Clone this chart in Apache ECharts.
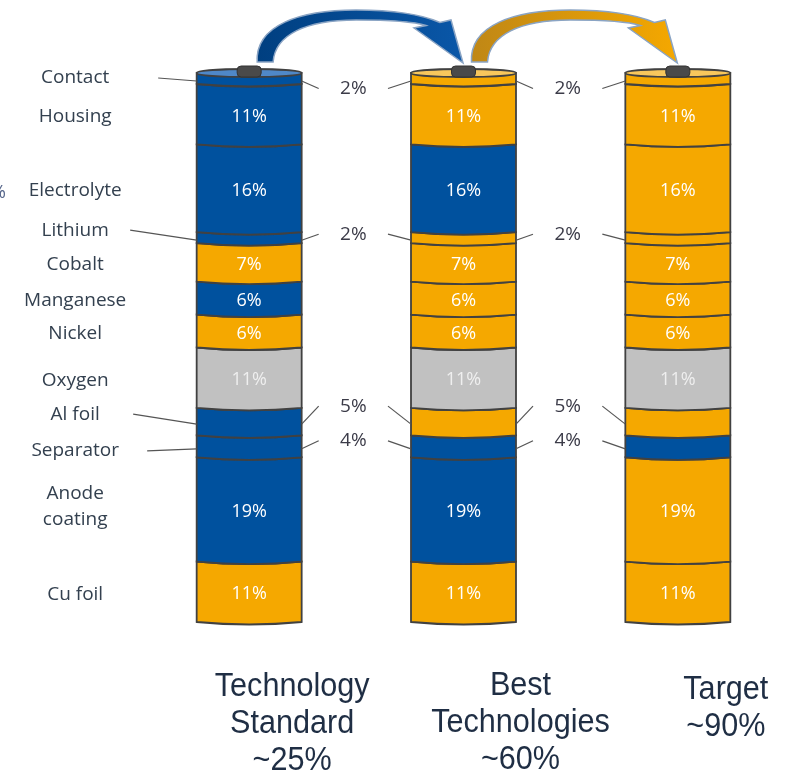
<!DOCTYPE html>
<html>
<head>
<meta charset="utf-8">
<script src="https://cdn.jsdelivr.net/npm/echarts@6/dist/echarts.min.js"></script>
<style>
html, body { margin: 0; padding: 0; background: #fff; }
#chart { width: 800px; height: 775px; }
</style>
</head>
<body>
<div id="chart"></div>
<script>
// battery layers, listed top to bottom
const components = ['Contact', 'Housing', 'Electrolyte', 'Lithium', 'Cobalt', 'Manganese', 'Nickel',
    'Oxygen', 'Al foil', 'Separator', 'Anode\ncoating', 'Cu foil'];
const shares = [2, 11, 16, 2, 7, 6, 6, 11, 5, 4, 19, 11];
const scenarios = ['Technology\nStandard\n~25%', 'Best\nTechnologies\n~60%', 'Target\n~90%'];
// b = blue, o = orange, g = grey (same order as components)
const standardColors = ['b', 'b', 'b', 'b', 'o', 'b', 'o', 'g', 'b', 'b', 'b', 'o'];
const bestColors     = ['o', 'o', 'b', 'o', 'o', 'o', 'o', 'g', 'o', 'b', 'b', 'o'];
const targetColors   = ['o', 'o', 'o', 'o', 'o', 'o', 'o', 'g', 'o', 'b', 'o', 'o'];
const palettes = [standardColors, bestColors, targetColors];

const FONT = '"Open Sans", "Noto Sans", sans-serif';
const COLORS = { b: '#00519e', o: '#f5a800', g: '#c1c1c1' };
const CAP_COLORS = { b: '#4f88c8', o: '#f8c75c', g: '#dddddd' };
const EDGE = '#414141';
const BAR_W = 105;
const SAG = 2.5;
const SMALL = [0, 3, 8, 9];               // layers labelled outside
const calloutDy = { 0: 7.5, 3: -6, 8: -18, 9: -8 };
const nameDy = { 0: -3, 3: -10, 8: -10, 9: 2, 10: -5 };
const leaderStart = { 0: -91, 3: -119, 8: -116, 9: -102 };
const NAME_DX = -174;
const titleDx = [43, 57, 48];
const titleDy = [46, 45, 49];

// build stacked items: [column, from, to, layer]
const items = [];
palettes.forEach((p, col) => {
    let acc = 0;
    for (let k = shares.length - 1; k >= 0; k--) {
        items.push([col, acc, acc + shares[k], k]);
        acc += shares[k];
    }
});

function arrowPath(cx, top, S) {
    const s = S / 214.5;
    const P = (dx, dy) => (cx + dx * s).toFixed(1) + ' ' + (top + dy).toFixed(1);
    return 'M' + P(8, -11) + 'C' + P(6, -48) + ' ' + P(51, -63) + ' ' + P(107, -63) +
        'C' + P(151, -63) + ' ' + P(176, -57) + ' ' + P(191, -50.5) +
        'L' + P(202, -53) + 'L' + P(214, -10) + 'L' + P(165, -45) + 'L' + P(177, -47.5) +
        'C' + P(163, -52) + ' ' + P(141, -53) + ' ' + P(107, -53) +
        'C' + P(56, -53) + ' ' + P(26, -38) + ' ' + P(24, -11) + 'Z';
}

function renderLayer(params, api) {
    const col = api.value(0), lo = api.value(1), hi = api.value(2), k = api.value(3);
    const key = palettes[col][k];
    const pTop = api.coord([col, hi]), pBot = api.coord([col, lo]);
    const cx = pTop[0], top = pTop[1], bot = pBot[1];
    const S = api.size([1, 0])[0];
    const l = cx - BAR_W / 2, r = cx + BAR_W / 2;
    const my = (top + bot) / 2 + SAG;
    const kids = [];

    kids.push({
        type: 'path',
        shape: { pathData: `M${l} ${top}Q${cx} ${top + 2 * SAG} ${r} ${top}L${r} ${bot}Q${cx} ${bot + 2 * SAG} ${l} ${bot}Z` },
        style: { fill: COLORS[key], stroke: EDGE, lineWidth: 1.8 }
    });

    if (SMALL.indexOf(k) < 0) {
        kids.push({
            type: 'text',
            style: { text: shares[k] + '%', x: cx, y: my, align: 'center', verticalAlign: 'middle',
                fill: key === 'g' ? '#efefef' : '#ffffff', font: '18px ' + FONT }
        });
    } else {
        const ty = my + calloutDy[k];
        if (col < 2) {
            kids.push({ type: 'line', shape: { x1: r, y1: my, x2: r + 17, y2: ty }, style: { stroke: '#555', lineWidth: 1.2 } });
            kids.push({
                type: 'text',
                style: { text: shares[k] + '%', x: cx + S / 2 - 3, y: ty, align: 'center', verticalAlign: 'middle',
                    fill: '#3b3b48', font: '19px ' + FONT }
            });
        }
        if (col > 0) {
            kids.push({ type: 'line', shape: { x1: l - 23, y1: ty, x2: l, y2: my }, style: { stroke: '#555', lineWidth: 1.2 } });
        }
    }

    if (col === 0) {
        const ny = my + (nameDy[k] || 0);
        kids.push({
            type: 'text',
            style: { text: components[k], x: cx + NAME_DX, y: ny, align: 'center', verticalAlign: 'middle',
                fill: '#33404f', font: '19px ' + FONT, lineHeight: 26 }
        });
        if (SMALL.indexOf(k) >= 0) {
            kids.push({ type: 'line', shape: { x1: cx + leaderStart[k], y1: ny, x2: l, y2: my }, style: { stroke: '#555', lineWidth: 1.2 } });
        }
    }

    if (k === 0) {
        kids.push({ type: 'ellipse', shape: { cx: cx, cy: top, rx: BAR_W / 2, ry: 4 },
            style: { fill: CAP_COLORS[key], stroke: EDGE, lineWidth: 1.8 } });
        kids.push({ type: 'rect', shape: { x: cx - 12, y: top - 7, width: 24, height: 11, r: 4 },
            style: { fill: '#4a4a4a', stroke: '#333', lineWidth: 1 } });
        if (col < 2) {
            const dark = col === 0 ? '#003f80' : '#bf8716';
            const light = col === 0 ? '#0a57a8' : '#f5a800';
            kids.push({
                type: 'path',
                shape: { pathData: arrowPath(cx, top, S) },
                style: {
                    fill: new echarts.graphic.LinearGradient(0, 0, 1, 0, [
                        { offset: 0, color: dark }, { offset: 1, color: light }]),
                    stroke: '#8aa4c4', lineWidth: 1.5
                }
            });
        }
    }

    if (lo === 0) {
        kids.push({
            type: 'text',
            x: cx + titleDx[col],
            y: bot + titleDy[col],
            scaleX: 0.9,
            style: { text: scenarios[col], x: 0, y: 0, align: 'center', verticalAlign: 'top',
                fill: '#1f2e44', font: '34px "Liberation Sans", Arial, sans-serif', lineHeight: 37 }
        });
    }

    return { type: 'group', children: kids };
}

const chart = echarts.init(document.getElementById('chart'));
chart.setOption({
    animation: false,
    grid: { left: 142, right: 15, top: 73, bottom: 153 },
    xAxis: { type: 'category', data: scenarios, show: false },
    yAxis: { type: 'value', min: 0, max: 100, show: false },
    graphic: [{ type: 'text', x: -9, y: 184, style: { text: '%', font: '18px ' + FONT, fill: '#55658a' } }],
    series: [{
        type: 'custom',
        renderItem: renderLayer,
        encode: { x: 0, y: [1, 2] },
        data: items,
        clip: false
    }]
});
</script>
</body>
</html>
